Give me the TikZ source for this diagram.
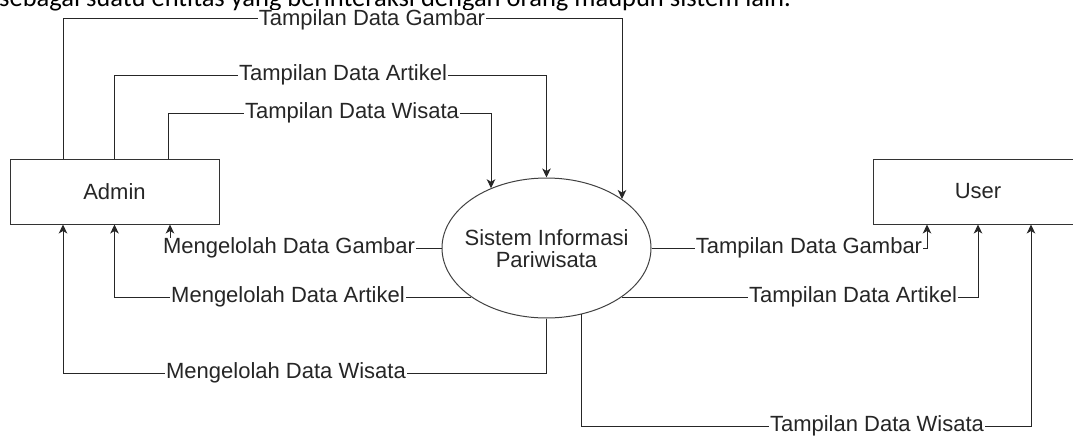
\documentclass[tikz,border=0pt]{standalone}
\usepackage{fontspec}
\setmainfont{Liberation Sans}
\newfontfamily\calib{Carlito}
\usetikzlibrary{arrows.meta,shapes.geometric}
\begin{document}
\begin{tikzpicture}[x=1pt,y=-1pt,
  lbl/.style={fill=white, inner xsep=1pt, inner ysep=0pt, font=\fontsize{22}{24}\selectfont, text=black!85},
  entity/.style={draw=black!80, line width=1pt, minimum width=209pt, minimum height=65pt, inner sep=0pt, font=\fontsize{22}{24}\selectfont, text=black!85},
  flow/.style={draw=black!85, line width=1pt, -{Stealth[length=9pt,width=8.5pt,inset=2.5pt]}},
]
\useasboundingbox (0,0) rectangle (1073,436);
\clip (0,0) rectangle (1073,436);

% cut-off document text at the top
\node[anchor=base west, inner sep=0pt, font=\calib\fontsize{26.5}{30}\selectfont] (doc) at (-1,7)
  {sebagai suatu entitas yang berinteraksi dengan orang maupun sistem lain.};

% entities and process
\node[entity] (admin) at (114.5,191.5) {Admin};
\node[entity, minimum width=210pt] (user) at (978,191.5) {User};
\node[draw=black!75, line width=1pt, ellipse, minimum width=209pt, minimum height=140pt, inner sep=0pt] (sis) at (546.5,248) {};
\node[align=center, inner sep=0pt, font=\fontsize{22}{22}\selectfont, text=black!85] (sistxt) at (546.5,249) {Sistem Informasi\\Pariwisata};

% helper coordinates
\coordinate (xa) at (63,0);
\coordinate (xb) at (114.5,0);
\coordinate (xc) at (168,0);
\coordinate (xd) at (170,0);
\coordinate (xg) at (622,0);
\coordinate (xw) at (491,0);
\coordinate (xr) at (581.5,0);
\coordinate (xu1) at (927,0);
\coordinate (xu3) at (1031,0);
\coordinate (y1) at (0,19);
\coordinate (y2) at (0,75);
\coordinate (y3) at (0,113);
\coordinate (y6) at (0,373);
\coordinate (y9) at (0,426);

% Admin -> System
\draw[flow] (admin.north -| xa) -- (xa |- y1) -- (xg |- y1) -- (sis.33 -| xg);
\draw[flow] (admin.north -| xb) -- (xb |- y2) -- (sis.north |- y2) -- (sis.north);
\draw[flow] (admin.north -| xc) -- (xc |- y3) -- (xw |- y3) -- (sis.133 -| xw);

% System -> Admin
\draw[flow] (sis.west) -| (admin.south -| xd);
\draw[flow] (sis.213) -| (admin.south);
\draw[flow] (sis.south) -- (sis.south |- y6) -| (admin.south -| xa);

% System -> User
\draw[flow] (sis.east) -| (user.south -| xu1);
\draw[flow] (sis.-33) -| (user.south);
\draw[flow] (sis.-62 -| xr) -- (xr |- y9) -| (user.south -| xu3);

% labels
\node[lbl] (l1) at (372,20) {Tampilan Data Gambar};
\node[lbl] (l2) at (343,75) {Tampilan Data Artikel};
\node[lbl] (l3) at (352,113) {Tampilan Data Wisata};
\node[lbl] (l4) at (289,248) {Mengelolah Data Gambar};
\node[lbl] (l5) at (288,297) {Mengelolah Data Artikel};
\node[lbl] (l6) at (286,373) {Mengelolah Data Wisata};
\node[lbl] (l7) at (809,248) {Tampilan Data Gambar};
\node[lbl] (l8) at (853,297) {Tampilan Data Artikel};
\node[lbl] (l9) at (877,426) {Tampilan Data Wisata};
\end{tikzpicture}
\end{document}
